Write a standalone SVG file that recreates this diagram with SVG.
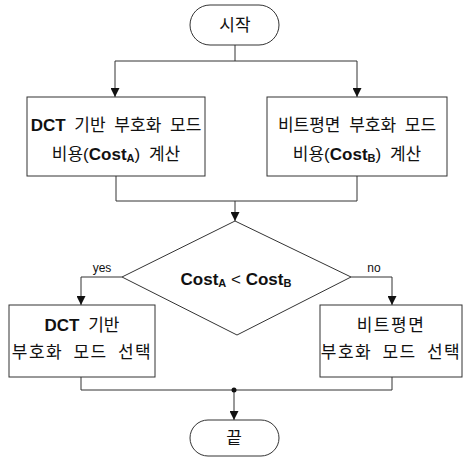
<svg xmlns="http://www.w3.org/2000/svg" width="463" height="459" viewBox="0 0 463 459">
<defs>
<marker id="arr" viewBox="0 0 10 10" refX="10" refY="5" markerWidth="10" markerHeight="9" markerUnits="userSpaceOnUse" orient="auto">
<path d="M0,0 L10,5 L0,10 z" fill="#111"/>
</marker>
<style>
.shape{fill:#fff;stroke:#333;stroke-width:1}
.line{fill:none;stroke:#333;stroke-width:1}
.t{font-family:"Liberation Sans","Noto Sans CJK KR",sans-serif;font-size:17px;fill:#111;text-anchor:middle;dominant-baseline:central;word-spacing:4px}
.w{letter-spacing:1.5px}
.d{word-spacing:0}
.b{font-weight:bold}
.s{font-size:11px;font-weight:bold}
.lbl{font-family:"Liberation Sans",sans-serif;font-size:12px;fill:#111;text-anchor:middle}
</style>
</defs>
<rect width="463" height="459" fill="#fff"/>
<g id="connectors">
<path class="line" d="M235,45 V61 M115,61 H357"/>
<path class="line" d="M115,61 V97" marker-end="url(#arr)"/>
<path class="line" d="M357,61 V97" marker-end="url(#arr)"/>
<path class="line" d="M116,176 V201 H357 V176"/>
<path class="line" d="M235,201 V221" marker-end="url(#arr)"/>
<path class="line" d="M122,277 H81 V305" marker-end="url(#arr)"/>
<path class="line" d="M351,277 H392 V305" marker-end="url(#arr)"/>
<path class="line" d="M81,377 V390 H392 V377"/>
<path class="line" d="M234,390 V420" marker-end="url(#arr)"/>
<circle cx="234" cy="390" r="2.5" fill="#111"/>
<text class="lbl" x="102" y="272">yes</text>
<text class="lbl" x="374" y="272">no</text>
</g>
<g id="start">
<rect class="shape" x="190" y="5" width="89" height="40" rx="20" ry="20"/>
<text class="t" x="235" y="25">시작</text>
</g>
<g id="costA">
<rect class="shape" x="27" y="97" width="178" height="79"/>
<text class="t" x="116" y="125"><tspan class="b">DCT</tspan> 기반 부호화 모드</text>
<text class="t" x="116" y="154">비용(<tspan class="b">Cost</tspan><tspan class="s" dy="4">A</tspan><tspan dy="-4">) 계산</tspan></text>
</g>
<g id="costB">
<rect class="shape" x="267" y="97" width="180" height="79"/>
<text class="t" x="357" y="125">비트평면 부호화 모드</text>
<text class="t" x="357" y="154">비용(<tspan class="b">Cost</tspan><tspan class="s" dy="4">B</tspan><tspan dy="-4">) 계산</tspan></text>
</g>
<g id="decision">
<polygon class="shape" points="235,221 351,277 237,335 122,277"/>
<text class="t d" x="236" y="279"><tspan class="b">Cost</tspan><tspan class="s" dy="4">A</tspan><tspan dy="-4"> &lt; </tspan><tspan class="b">Cost</tspan><tspan class="s" dy="4">B</tspan></text>
</g>
<g id="selDCT">
<rect class="shape" x="9" y="305" width="146" height="72"/>
<text class="t" x="82" y="325"><tspan class="b">DCT</tspan> 기반</text>
<text class="t w" x="82" y="352">부호화 모드 선택</text>
</g>
<g id="selBP">
<rect class="shape" x="320" y="305" width="142" height="72"/>
<text class="t w" x="391" y="325">비트평면</text>
<text class="t w" x="391" y="352">부호화 모드 선택</text>
</g>
<g id="end">
<rect class="shape" x="190" y="420" width="89" height="36" rx="18" ry="18"/>
<text class="t" x="234" y="438">끝</text>
</g>
</svg>
